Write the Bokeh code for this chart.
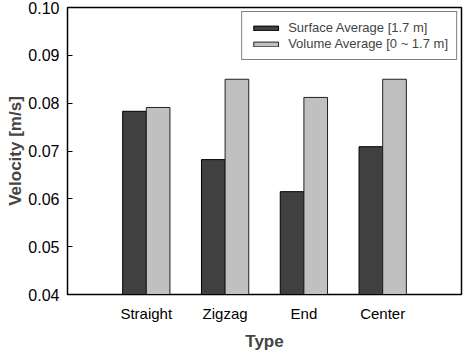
from bokeh.plotting import figure
from bokeh.models import ColumnDataSource, FixedTicker, Range1d, Legend, LegendItem
from bokeh.embed import file_html
from bokeh.resources import INLINE

categories = ["Straight", "Zigzag", "End", "Center"]
surface_avg = [0.0783, 0.0682, 0.0615, 0.0709]
volume_avg = [0.0791, 0.0850, 0.0812, 0.0850]
y_ticks = [0.04, 0.05, 0.06, 0.07, 0.08, 0.09, 0.10]

pos = list(range(1, len(categories) + 1))
bw = 0.3
src_s = ColumnDataSource(dict(x=[p_ - bw / 2 for p_ in pos], top=surface_avg))
src_v = ColumnDataSource(dict(x=[p_ + bw / 2 for p_ in pos], top=volume_avg))

p = figure(width=466, height=353, output_backend="svg", toolbar_location=None,
           x_range=Range1d(0, len(categories) + 1), y_range=Range1d(0.04, 0.10))
p.min_border_left = 67
p.min_border_right = 5
p.min_border_top = 7
p.min_border_bottom = 59
p.background_fill_color = "white"
p.border_fill_color = "white"
p.outline_line_color = "black"
p.outline_line_width = 1.5
p.grid.visible = False

r1 = p.vbar(x="x", top="top", bottom=0.04, width=bw, source=src_s,
            fill_color="#404040", line_color="black", line_width=1)
r2 = p.vbar(x="x", top="top", bottom=0.04, width=bw, source=src_v,
            fill_color="#c0c0c0", line_color="#202020", line_width=1)

font = "Liberation Sans"
p.xaxis.ticker = FixedTicker(ticks=pos)
p.xaxis.major_label_overrides = {p_: c for p_, c in zip(pos, categories)}
p.xaxis.major_tick_line_color = None
p.xaxis.minor_tick_line_color = None
p.xaxis.axis_line_color = "black"
p.xaxis.major_label_text_font = font
p.xaxis.major_label_text_font_size = "15px"
p.xaxis.major_label_text_color = "black"
p.xaxis.major_label_standoff = 4
p.xaxis.axis_label = "Type"
p.xaxis.axis_label_text_font = font
p.xaxis.axis_label_text_font_style = "bold"
p.xaxis.axis_label_text_font_size = "17px"
p.xaxis.axis_label_standoff = 7

p.yaxis.ticker = FixedTicker(ticks=y_ticks)
p.yaxis.major_label_overrides = {t: f"{t:.2f}" for t in y_ticks}
p.yaxis.minor_tick_line_color = None
p.yaxis.major_tick_in = 5
p.yaxis.major_tick_out = 0
p.yaxis.major_tick_line_color = "black"
p.yaxis.axis_line_color = "black"
p.yaxis.major_label_text_font = font
p.yaxis.major_label_text_font_size = "16px"
p.yaxis.major_label_text_color = "black"
p.yaxis.major_label_standoff = 8
p.yaxis.axis_label = "Velocity [m/s]"
p.yaxis.axis_label_text_font = font
p.yaxis.axis_label_text_font_style = "bold"
p.yaxis.axis_label_text_font_size = "17px"
p.yaxis.axis_label_standoff = 0

legend = Legend(items=[LegendItem(label="Surface Average [1.7 m]", renderers=[r1]),
                       LegendItem(label="Volume Average [0 ~ 1.7 m]", renderers=[r2])],
                location="top_right")
legend.margin = 4
legend.border_line_color = "black"
legend.border_line_width = 1
legend.label_text_font = font
legend.label_text_font_size = "13px"
legend.glyph_width = 31
legend.glyph_height = 6
legend.label_standoff = 7
legend.spacing = 1
legend.padding = 8
legend.label_height = 15
p.add_layout(legend)

open("out.html", "w").write(file_html(p, INLINE))
